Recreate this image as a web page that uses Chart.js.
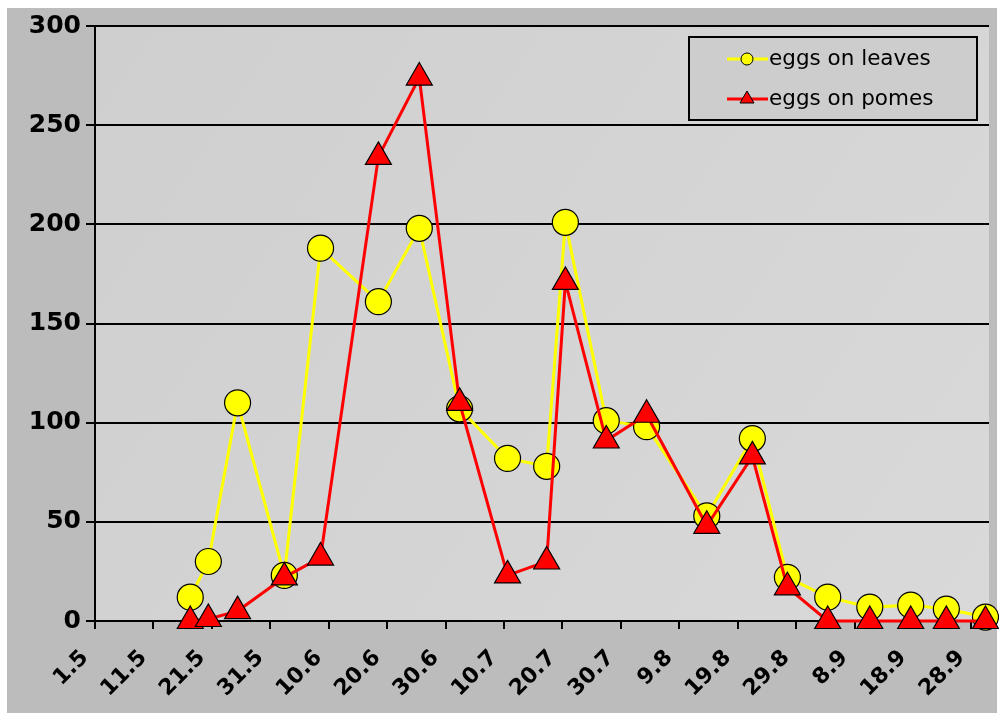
<!DOCTYPE html>
<html>
<head>
<meta charset="utf-8">
<script src="https://cdn.jsdelivr.net/npm/chart.js@4.4.0/dist/chart.umd.min.js"></script>
<style>
  html, body { margin: 0; padding: 0; background: #fff; }
  #wrap { width: 999px; height: 715px; }
</style>
</head>
<body>
<div id="wrap"><canvas id="eggs" width="999" height="715"></canvas></div>
<script>
// sample days, counted from 1 May (day 0 = 1.5)
const sampleDays = [16.3, 19.4, 24.4, 32.4, 38.6, 48.5, 55.5, 62.4, 70.6, 77.3, 80.5, 87.5, 94.4, 104.7, 112.5, 118.5, 125.4, 132.6, 139.6, 145.7, 152.4];
const eggsOnLeaves = [12, 30, 110, 23, 188, 161, 198, 107, 82, 78, 201, 101, 98, 53, 92, 22, 12, 7, 8, 6, 2];
const eggsOnPomes = [0, 1, 5, 22, 32, 234, 274, 110, 23, 30, 171, 91, 104, 48, 83, 17, 0, 0, 0, 0, 0];
const dateLabels = ['1.5', '11.5', '21.5', '31.5', '10.6', '20.6', '30.6', '10.7', '20.7', '30.7', '9.8', '19.8', '29.8', '8.9', '18.9', '28.9'];
const yTicks = [0, 50, 100, 150, 200, 250, 300];

const toPoints = (vals) => vals.map((v, i) => ({ x: sampleDays[i], y: v }));

const bgPlugin = {
  id: 'bg',
  beforeDraw(chart) {
    const c = chart.ctx, a = chart.chartArea;
    c.save();
    c.fillStyle = '#ffffff';
    c.fillRect(0, 0, chart.width, chart.height);
    c.fillStyle = '#bcbcbc';
    c.fillRect(7, 8, 990, 705);
    const g = c.createLinearGradient(a.left, a.top, a.right, a.bottom);
    g.addColorStop(0, '#cfcfcf');
    g.addColorStop(1, '#d9d9d9');
    c.fillStyle = g;
    c.fillRect(a.left, a.top, a.right - a.left, a.bottom - a.top);
    c.restore();
  }
};

const legendPlugin = {
  id: 'boxLegend',
  afterDraw(chart) {
    const c = chart.ctx;
    c.save();
    c.fillStyle = '#cdcdcd';
    c.fillRect(689, 37, 288, 83);
    c.strokeStyle = '#000';
    c.lineWidth = 2;
    c.strokeRect(689, 37, 288, 83);
    const items = [
      { text: 'eggs on leaves', color: '#ffff00', style: 'circle', y: 59 },
      { text: 'eggs on pomes', color: '#ff0000', style: 'triangle', y: 99 }
    ];
    items.forEach(it => {
      c.strokeStyle = it.color;
      c.lineWidth = 3;
      c.beginPath();
      c.moveTo(727, it.y);
      c.lineTo(768, it.y);
      c.stroke();
      c.fillStyle = it.color;
      c.strokeStyle = '#000';
      c.lineWidth = 1;
      c.beginPath();
      if (it.style === 'circle') {
        c.arc(747, it.y, 6, 0, Math.PI * 2);
      } else {
        c.moveTo(747, it.y - 8);
        c.lineTo(754, it.y + 4);
        c.lineTo(740, it.y + 4);
        c.closePath();
      }
      c.fill();
      c.stroke();
      c.fillStyle = '#000';
      c.font = '21.5px "DejaVu Sans", sans-serif';
      c.textBaseline = 'middle';
      c.fillText(it.text, 769, it.y);
    });
    c.restore();
  }
};

new Chart(document.getElementById('eggs'), {
  type: 'scatter',
  data: {
    datasets: [{
      label: 'eggs on leaves',
      data: toPoints(eggsOnLeaves),
      showLine: true,
      borderColor: '#ffff00',
      borderWidth: 3,
      backgroundColor: '#ffff00',
      pointStyle: 'circle',
      pointRadius: 13,
      pointBorderColor: '#000',
      pointBorderWidth: 1.2,
      pointBackgroundColor: '#ffff00',
      clip: false,
      order: 2
    }, {
      label: 'eggs on pomes',
      data: toPoints(eggsOnPomes),
      showLine: true,
      borderColor: '#ff0000',
      borderWidth: 3,
      backgroundColor: '#ff0000',
      pointStyle: 'triangle',
      pointRadius: 15,
      pointBorderColor: '#000',
      pointBorderWidth: 1.2,
      pointBackgroundColor: '#ff0000',
      clip: false,
      order: 1
    }]
  },
  options: {
    responsive: false,
    animation: false,
    layout: { autoPadding: false, padding: { top: 26, right: 10, left: 0, bottom: 0 } },
    plugins: { legend: { display: false }, tooltip: { enabled: false } },
    scales: {
      x: {
        type: 'linear',
        min: 0,
        max: 153,
        afterBuildTicks(scale) {
          scale.ticks = dateLabels.map((l, i) => ({ value: i * 10 }));
        },
        afterFit(scale) {
          scale.height = 94;
          scale.paddingLeft = 0;
          scale.paddingRight = 0;
        },
        ticks: {
          color: '#000',
          font: { family: '"DejaVu Sans", sans-serif', size: 22, weight: 'bold' },
          minRotation: 45,
          maxRotation: 45,
          autoSkip: false,
          padding: 16,
          labelOffset: -10,
          callback: (v) => dateLabels[Math.round(v / 10)]
        },
        grid: { drawOnChartArea: false, drawTicks: true, tickLength: 8, color: '#000', lineWidth: 2 },
        border: { color: '#000', width: 2 }
      },
      y: {
        min: 0,
        max: 300,
        afterBuildTicks(scale) {
          scale.ticks = yTicks.map(v => ({ value: v }));
        },
        afterFit(scale) { scale.width = 95; },
        ticks: {
          color: '#000',
          font: { family: '"DejaVu Sans", sans-serif', size: 25, weight: 'bold' },
          padding: 5
        },
        grid: { color: '#000', lineWidth: 2, tickLength: 9 },
        border: { color: '#000', width: 2 }
      }
    }
  },
  plugins: [bgPlugin, legendPlugin]
});
</script>
</body>
</html>
